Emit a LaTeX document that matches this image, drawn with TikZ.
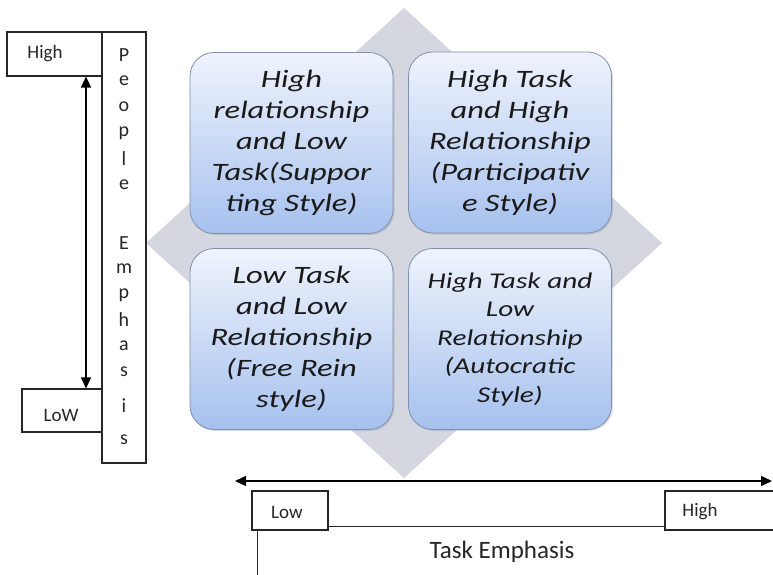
\documentclass[tikz,border=0pt]{standalone}
\usepackage{fontspec}
\setmainfont{Carlito}
\newfontfamily\quadfont[FakeStretch=1.3]{Carlito}
\usetikzlibrary{arrows.meta,shadows}
\definecolor{diam}{HTML}{D4D7DF}
\definecolor{qborder}{HTML}{7E90AE}
\definecolor{qtop}{HTML}{EFF3FC}
\definecolor{qbot}{HTML}{A6C1EE}
\definecolor{qtext}{HTML}{1A1A1A}
\definecolor{ltext}{HTML}{262626}
\tikzset{
  quad/.style={draw=qborder, line width=0.8pt, rounded corners=24pt,
    top color=qtop, bottom color=qbot, minimum width=203pt, minimum height=181pt,
    align=center, text=qtext, inner sep=0pt,
    font=\quadfont\itshape\fontsize{25}{31}\selectfont,
    drop shadow={shadow xshift=1.5pt, shadow yshift=-1.5pt, opacity=0.25}},
  quadsmall/.style={font=\quadfont\itshape\fontsize{22.5}{28.5}\selectfont},
  frame/.style={draw=black!85, line width=1.1pt, fill=white, inner sep=0pt},
  lbl/.style={text=ltext, font=\fontsize{19}{22}\selectfont, inner sep=0pt},
  letter/.style={text=ltext, font=\fontsize{20}{22}\selectfont, inner sep=0pt},
  dbl/.style={line width=1.3pt, {Triangle[length=11pt,width=10pt]}-{Triangle[length=11pt,width=10pt]}}
}
\begin{document}
\begin{tikzpicture}[x=1pt,y=-1pt]
\useasboundingbox (0,0) rectangle (773,575);
\fill[white] (0,0) rectangle (773,575);

% grey diamond
\coordinate (dT) at (404,8);
\coordinate (dR) at (662,243);
\coordinate (dB) at (404,478);
\coordinate (dL) at (146,243);
\fill[diam] (dT) -- (dR) -- (dB) -- (dL) -- cycle;

% quadrants
\node[quad] (tl) at (291.5,143) {High\\relationship\\and Low\\Task(Suppor\\ting Style)};
\node[quad] (tr) at (510,142.5) {High Task\\and High\\Relationship\\(Participativ\\e Style)};
\node[quad] (bl) at (291.5,339) {Low Task\\and Low\\Relationship\\(Free Rein\\style)};
\node[quad, quadsmall] (br) at (510,339) {High Task and\\Low\\Relationship\\(Autocratic\\Style)};

% left axis: People Emphasis
\node[frame, minimum width=95pt, minimum height=44pt] (hi) at (54.5,54) {};
\node[lbl] (hiT) at (45,54) {High};
\node[frame, minimum width=80pt, minimum height=43pt] (lo) at (62,410.5) {};
\node[lbl] (loT) at (61,415) {LoW};
\node[frame, minimum width=44pt, minimum height=431pt] (pe) at (124,247.5) {};
\foreach \ch/\yy [count=\k] in {P/55, e/81, o/107, p/133, l/159, e/185,
    E/243, m/269, p/295, h/320, a/346, s/372, i/406, s/440}
  \node[letter] (pe\k) at (124,\yy) {\ch};
\coordinate (ax) at (86,0);
\draw[dbl] (hi.south -| ax) -- (lo.north -| ax);

% bottom axis: Task Emphasis
\coordinate (aL) at (235,481);
\coordinate (aR) at (772,481);
\draw[dbl] (aL) -- (aR);
\node[frame, minimum width=560pt, minimum height=80pt, anchor=north west] (te) at (257,526) {};
\node[text=ltext, font=\fontsize{25}{28}\selectfont, inner sep=0pt] (teT) at (502,552) {Task Emphasis};
\node[frame, minimum width=76pt, minimum height=39pt] (tlo) at (290,510.5) {};
\node[lbl] (tloT) at (287,512) {Low};
\node[frame, minimum width=120pt, minimum height=39pt] (thi) at (725,510.5) {};
\node[lbl] (thiT) at (700,512) {High};
\end{tikzpicture}
\end{document}
